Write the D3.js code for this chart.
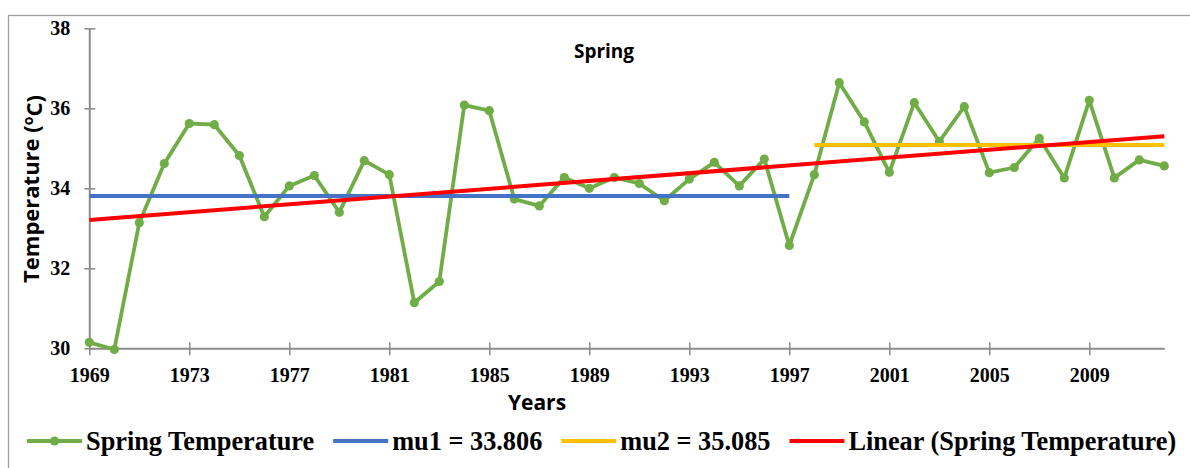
<!DOCTYPE html>
<html>
<head>
<meta charset="utf-8">
<script src="https://cdn.jsdelivr.net/npm/d3@7"></script>
<style>
  html, body { margin: 0; padding: 0; background: #fff; }
  svg { display: block; }
</style>
</head>
<body>
<svg id="chart" width="1190" height="468"></svg>
<script>
// Spring mean temperature by year
const years = d3.range(1969, 2013);
const springTemp = [
  30.15, 29.97, 33.14, 34.62, 35.62, 35.59, 34.82, 33.29, 34.06, 34.32,
  33.40, 34.69, 34.34, 31.14, 31.67, 36.08, 35.94, 33.73, 33.56, 34.27,
  34.00, 34.27, 34.12, 33.69, 34.23, 34.65, 34.06, 34.73, 32.57, 34.34,
  36.64, 35.66, 34.40, 36.14, 35.17, 36.04, 34.39, 34.52, 35.25, 34.26,
  36.20, 34.26, 34.71, 34.56
];
// Segment means (change point between 1997 and 1998)
const mu1 = 33.806;
const mu2 = 35.085;
const mu1Span = [1969, 1997];
const mu2Span = [1998, 2012];
const xTickYears = [1969, 1973, 1977, 1981, 1985, 1989, 1993, 1997, 2001, 2005, 2009];
const yTickValues = [30, 32, 34, 36, 38];
const legendLabels = ["Spring Temperature", "mu1 = 33.806", "mu2 = 35.085", "Linear (Spring Temperature)"];

const colors = { temp: "#70AD47", mu1: "#4472C4", mu2: "#FFC000", trend: "#FF0000" };
const serif = "'Liberation Serif', 'Times New Roman', serif";
const sans = "'Open Sans', 'Liberation Sans', sans-serif";

const svg = d3.select("#chart");

// Chart frame
svg.append("rect")
  .attr("x", 8.5).attr("y", 15.5)
  .attr("width", 1200).attr("height", 480)
  .attr("fill", "none").attr("stroke", "#a0a0a0").attr("stroke-width", 1.3);

const x = d3.scaleLinear().domain([1969, 2012]).range([89.3, 1164.3]);
const y = d3.scaleLinear().domain([30, 38]).range([348.3, 28.3]);

// Least-squares trend line
const n = years.length;
const mx = d3.mean(years), my = d3.mean(springTemp);
let sxy = 0, sxx = 0;
years.forEach((yr, i) => { sxy += (yr - mx) * (springTemp[i] - my); sxx += (yr - mx) * (yr - mx); });
const slope = sxy / sxx;
const intercept = my - slope * mx;
const trend = yr => intercept + slope * yr;

// Axes
const axisColor = "#8c8c8c";
const yAxis = svg.append("g")
  .attr("transform", `translate(${x(1969)},0)`)
  .call(d3.axisLeft(y).tickValues(yTickValues).tickSizeInner(5).tickSizeOuter(0).tickPadding(14).tickFormat(d3.format("d")));
yAxis.selectAll(".tick line").attr("x2", 6).attr("x1", -5);

const xAxis = svg.append("g")
  .attr("transform", `translate(0,${y(30)})`)
  .call(d3.axisBottom(x).tickValues(xTickYears).tickSizeInner(6).tickSizeOuter(0).tickPadding(14).tickFormat(d3.format("d")));
xAxis.selectAll(".tick line").attr("y1", -6).attr("y2", 7);

[yAxis, xAxis].forEach(g => {
  g.select(".domain").attr("stroke", axisColor).attr("stroke-width", 2);
  g.selectAll(".tick line").attr("stroke", axisColor).attr("stroke-width", 1.5);
  g.selectAll(".tick text")
    .attr("fill", "#000")
    .style("font-family", serif).style("font-weight", "bold").style("font-size", "20px");
});
xAxis.selectAll(".tick text").attr("dy", "0.71em").attr("y", 20);

// Temperature series
const line = d3.line().x((d, i) => x(years[i])).y(d => y(d));
svg.append("path")
  .datum(springTemp)
  .attr("d", line)
  .attr("fill", "none").attr("stroke", colors.temp)
  .attr("stroke-width", 3.8).attr("stroke-linejoin", "round");
svg.append("g").selectAll("circle")
  .data(springTemp)
  .join("circle")
  .attr("cx", (d, i) => x(years[i]))
  .attr("cy", d => y(d))
  .attr("r", 4.6)
  .attr("fill", colors.temp);

// Segment means
svg.append("line")
  .attr("x1", x(mu1Span[0])).attr("x2", x(mu1Span[1]))
  .attr("y1", y(mu1)).attr("y2", y(mu1))
  .attr("stroke", colors.mu1).attr("stroke-width", 4);
svg.append("line")
  .attr("x1", x(mu2Span[0])).attr("x2", x(mu2Span[1]))
  .attr("y1", y(mu2)).attr("y2", y(mu2))
  .attr("stroke", colors.mu2).attr("stroke-width", 4);

// Trend line
svg.append("line")
  .attr("x1", x(years[0])).attr("x2", x(years[n - 1]))
  .attr("y1", y(trend(years[0]))).attr("y2", y(trend(years[n - 1])))
  .attr("stroke", colors.trend).attr("stroke-width", 4);

// Titles
svg.append("text")
  .attr("x", 604).attr("y", 58)
  .attr("text-anchor", "middle")
  .style("font-family", sans).style("font-weight", "bold").style("font-size", "19px")
  .text("Spring");

svg.append("text")
  .attr("x", 537).attr("y", 410)
  .attr("text-anchor", "middle")
  .style("font-family", sans).style("font-weight", "bold").style("font-size", "21px")
  .text("Years");

const yTitle = svg.append("text")
  .attr("transform", "translate(39,189) rotate(-90)")
  .attr("text-anchor", "middle")
  .style("font-family", sans).style("font-weight", "bold").style("font-size", "22px");
yTitle.append("tspan").text("Temperature (");
yTitle.append("tspan").attr("dy", "-0.4em").style("font-size", "14px").text("o");
yTitle.append("tspan").attr("dy", "0.4em").text("C)");

// Legend
const legend = svg.append("g").attr("transform", "translate(27,441)");
const legendKeys = [colors.temp, colors.mu1, colors.mu2, colors.trend];
let lx = 0;
legendLabels.forEach((label, i) => {
  const item = legend.append("g").attr("transform", `translate(${lx},0)`);
  item.append("line").attr("x1", 0).attr("x2", 55).attr("y1", 0).attr("y2", 0)
    .attr("stroke", legendKeys[i]).attr("stroke-width", 3.8);
  if (i === 0) item.append("circle").attr("cx", 27.5).attr("cy", 0).attr("r", 4.6).attr("fill", legendKeys[i]);
  const t = item.append("text")
    .attr("x", 59).attr("y", 0).attr("dy", "0.33em")
    .style("font-family", serif).style("font-weight", "bold").style("font-size", "26.3px")
    .text(label);
  lx += 59 + t.node().getComputedTextLength() + 19;
});
</script>
</body>
</html>
